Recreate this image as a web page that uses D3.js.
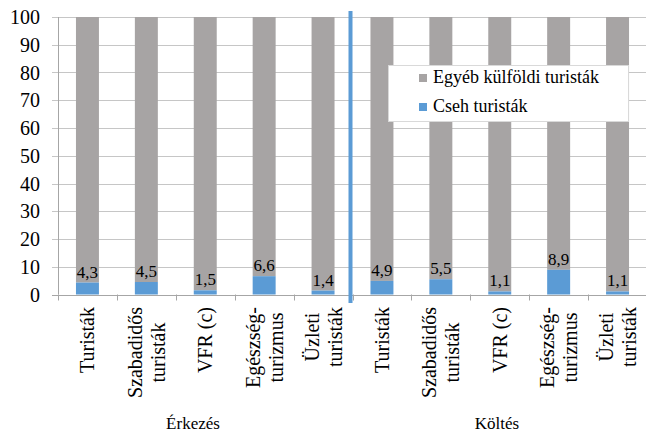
<!DOCTYPE html>
<html>
<head>
<meta charset="utf-8">
<script src="https://cdn.jsdelivr.net/npm/d3@7"></script>
<style>
    body { margin: 0; background: #fff; }
    svg { display: block; }
</style>
</head>
<body>
<svg width="646" height="435"></svg>
<script>
    // data
    var labels = [
        ["Turisták"], ["Szabadidős", "turisták"], ["VFR (c)"], ["Egészség-", "turizmus"], ["Üzleti", "turisták"],
        ["Turisták"], ["Szabadidős", "turisták"], ["VFR (c)"], ["Egészség-", "turizmus"], ["Üzleti", "turisták"]
    ];
    var groups = ["Érkezés", "Költés"];
    var cseh = [4.3, 4.5, 1.5, 6.6, 1.4, 4.9, 5.5, 1.1, 8.9, 1.1];
    var egyeb = cseh.map(function(v) { return 100 - v; });
    var seriesNames = ["Egyéb külföldi turisták", "Cseh turisták"];
    var yTicks = [0, 10, 20, 30, 40, 50, 60, 70, 80, 90, 100];

    var grey = "#a7a4a4", blue = "#5b9bd5";
    var serif = "Liberation Serif";

    var svg = d3.select("svg").attr("font-family", serif);
    var plotLeft = 58, plotRight = 647, plotTop = 17, plotBottom = 294.5;

    var x = d3.scaleBand()
        .domain(d3.range(cseh.length))
        .range([plotLeft, plotRight])
        .paddingInner(0.61)
        .paddingOuter(0.305);
    var step = x.step();

    var y = d3.scaleLinear().domain([0, 100]).range([plotBottom, plotTop]);

    // gridlines
    svg.append("g").selectAll("line")
        .data(yTicks)
        .enter().append("line")
            .attr("x1", plotLeft - 6)
            .attr("x2", 646)
            .attr("y1", function(d) { return Math.round(y(d)) + 0.5; })
            .attr("y2", function(d) { return Math.round(y(d)) + 0.5; })
            .attr("stroke", function(d) { return d == 0 ? "#a6a6a6" : "#c6c6c6"; })
            .attr("stroke-width", 1);

    // y tick labels
    svg.append("g").selectAll("text")
        .data(yTicks)
        .enter().append("text")
            .attr("x", 40)
            .attr("y", function(d) { return y(d); })
            .attr("dy", "0.35em")
            .attr("text-anchor", "end")
            .attr("font-family", serif)
            .attr("font-size", 20)
            .text(function(d) { return d; });

    // y axis line
    svg.append("line")
        .attr("x1", plotLeft + 0.5).attr("x2", plotLeft + 0.5)
        .attr("y1", y(100)).attr("y2", y(0))
        .attr("stroke", "#a6a6a6");

    // x tick marks at band boundaries
    svg.append("g").selectAll("line")
        .data(d3.range(cseh.length + 1))
        .enter().append("line")
            .attr("x1", function(i) { return Math.round(plotLeft + i * step) + 0.5; })
            .attr("x2", function(i) { return Math.round(plotLeft + i * step) + 0.5; })
            .attr("y1", y(0))
            .attr("y2", y(0) + 6)
            .attr("stroke", "#a6a6a6");

    // bars
    var bars = svg.append("g");
    bars.selectAll(".egyeb")
        .data(egyeb)
        .enter().append("rect")
            .attr("x", function(d, i) { return x(i); })
            .attr("width", x.bandwidth())
            .attr("y", function(d, i) { return y(cseh[i] + d); })
            .attr("height", function(d) { return y(0) - y(d); })
            .attr("fill", grey);
    bars.selectAll(".cseh")
        .data(cseh)
        .enter().append("rect")
            .attr("x", function(d, i) { return x(i); })
            .attr("width", x.bandwidth())
            .attr("y", function(d) { return y(d); })
            .attr("height", function(d) { return y(0) - y(d); })
            .attr("fill", blue);

    // value labels
    svg.append("g").selectAll("text")
        .data(cseh)
        .enter().append("text")
            .attr("x", function(d, i) { return x(i) + x.bandwidth() / 2; })
            .attr("y", function(d) { return y(d) - 5; })
            .attr("text-anchor", "middle")
            .attr("font-family", serif)
            .attr("font-size", 17)
            .text(function(d) { return String(d).replace(".", ","); });

    // separator between the two groups
    var sep = plotLeft + 5 * step - 2;
    svg.append("line")
        .attr("x1", sep).attr("x2", sep)
        .attr("y1", 11).attr("y2", 303)
        .attr("stroke", blue)
        .attr("stroke-width", 4);

    // rotated category labels
    var lab = svg.append("g").selectAll("g")
        .data(labels)
        .enter().append("g")
            .attr("transform", function(d, i) {
                return "translate(" + (x(i) + x.bandwidth() / 2) + ",307) rotate(-90)";
            });
    lab.each(function(lines) {
        var g = d3.select(this);
        var texts = g.selectAll("text")
            .data(lines)
            .enter().append("text")
                .attr("y", function(d, j) { return (j - (lines.length - 1) / 2) * 23; })
                .attr("dy", "0.35em")
                .attr("text-anchor", "middle")
                .attr("font-family", serif)
                .attr("font-size", 20)
                .text(function(d) { return d; });
        var maxLen = d3.max(texts.nodes(), function(n) { return n.getComputedTextLength(); });
        texts.attr("x", -maxLen / 2);
    });

    // group titles
    svg.append("g").selectAll("text")
        .data(groups)
        .enter().append("text")
            .attr("x", function(d, i) { return i == 0 ? 193 : 497; })
            .attr("y", 429)
            .attr("text-anchor", "middle")
            .attr("font-family", serif)
            .attr("font-size", 17)
            .text(function(d) { return d; });

    // legend
    var legend = svg.append("g");
    legend.append("rect")
        .attr("x", 388.5).attr("y", 65.5)
        .attr("width", 240).attr("height", 56)
        .attr("fill", "#fff")
        .attr("stroke", "#d9d9d9");
    var items = legend.selectAll("g")
        .data(seriesNames)
        .enter().append("g")
            .attr("transform", function(d, i) { return "translate(419," + (74 + i * 29) + ")"; });
    items.append("rect")
        .attr("width", 8).attr("height", 8)
        .attr("fill", function(d, i) { return i == 0 ? grey : blue; });
    items.append("text")
        .attr("x", 14)
        .attr("y", 9)
        .attr("font-family", serif)
        .attr("font-size", 18)
        .text(function(d) { return d; });
</script>
</body>
</html>
